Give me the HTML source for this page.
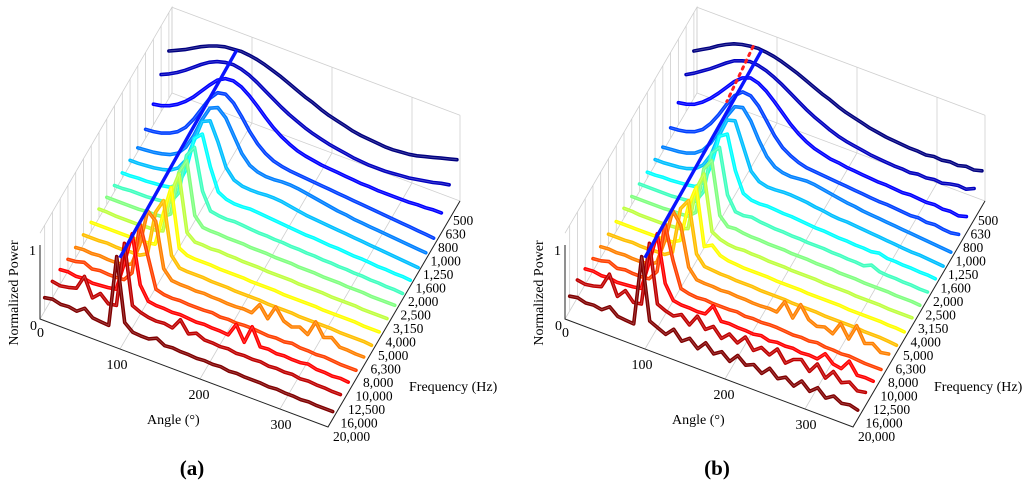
<!DOCTYPE html>
<html><head><meta charset="utf-8"><style>
html,body{margin:0;padding:0;background:#fff;}
svg{display:block;font-family:"Liberation Serif",serif;}
</style></head>
<body>
<svg id="chart" width="1024" height="496" viewBox="0 0 1024 496" xmlns="http://www.w3.org/2000/svg"></svg>
<script>
const frequencies=['500','630','800','1,000','1,250','1,600','2,000','2,500','3,150','4,000','5,000','6,300','8,000','10,000','12,500','16,000','20,000'];
const angleTicks=[0,100,200,300];
const angles=[0,10,20,30,40,50,60,70,80,90,100,110,120,130,140,150,160,170,180,190,200,210,220,230,240,250,260,270,280,290,300,310,320,330,340,350,360];
const blueLineIdx=[0,16];
const blueLineAngles=[85,94];
const blueLineZ=[1.0,1.1];
const redDotIdx=[0,4];
const redDotAngles=[74,80];
const redDotZ=[1.0,1.0];

const panelAValues=[
[.64,.69,.74,.80,.86,.91,.95,.98,.99,1.0,.99,.97,.94,.90,.86,.81,.76,.71,.67,.62,.58,.55,.52,.49,.47,.46,.45,.44,.44,.45,.46,.48,.51,.54,.57,.60,.63],
[.50,.55,.61,.68,.76,.84,.91,.96,.99,1.0,.98,.94,.88,.81,.74,.67,.61,.56,.51,.47,.44,.41,.39,.37,.35,.34,.33,.33,.33,.34,.35,.36,.38,.40,.42,.45,.47],
[.28,.30,.34,.40,.48,.58,.70,.82,.93,.99,1.0,.96,.88,.78,.67,.57,.49,.43,.38,.35,.33,.31,.30,.29,.28,.27,.26,.26,.25,.25,.25,.25,.25,.26,.26,.27,.27],
[.12,.13,.15,.19,.25,.35,.50,.68,.86,.98,1.0,.92,.78,.62,.49,.40,.34,.31,.29,.28,.27,.26,.25,.24,.23,.22,.21,.20,.19,.18,.17,.16,.15,.14,.13,.12,.11],
[.05,.06,.07,.09,.12,.18,.30,.50,.75,.95,1.0,.90,.70,.50,.38,.33,.31,.31,.32,.32,.31,.29,.27,.25,.23,.21,.20,.18,.17,.16,.15,.14,.13,.12,.11,.10,.09],
[.06,.06,.07,.08,.10,.13,.20,.35,.65,.95,1.0,.75,.45,.32,.28,.27,.27,.28,.28,.27,.25,.23,.21,.20,.19,.18,.17,.16,.15,.14,.13,.12,.11,.10,.09,.08,.07],
[.07,.07,.08,.08,.09,.10,.12,.20,.45,.90,1.0,.60,.30,.24,.22,.22,.23,.22,.21,.20,.19,.18,.17,.16,.16,.15,.14,.14,.13,.12,.12,.11,.10,.10,.09,.09,.08],
[.08,.08,.09,.09,.09,.10,.11,.14,.30,.85,1.0,.45,.22,.20,.19,.20,.19,.18,.17,.17,.16,.16,.15,.15,.14,.14,.13,.13,.12,.12,.11,.11,.10,.10,.09,.09,.08],
[.10,.10,.10,.10,.10,.11,.11,.12,.20,.80,1.0,.30,.18,.17,.17,.16,.16,.16,.15,.15,.15,.14,.14,.14,.13,.13,.13,.12,.12,.12,.11,.11,.11,.10,.10,.10,.10],
[.12,.12,.11,.11,.11,.11,.12,.12,.15,.70,1.0,.25,.16,.16,.15,.16,.15,.15,.14,.14,.14,.13,.13,.13,.13,.12,.12,.12,.12,.11,.11,.11,.11,.10,.10,.10,.10],
[.12,.12,.12,.12,.12,.12,.12,.13,.15,.60,1.0,.22,.16,.15,.15,.15,.14,.14,.14,.14,.13,.13,.13,.13,.12,.12,.12,.12,.12,.11,.11,.11,.11,.11,.10,.10,.10],
[.13,.13,.13,.14,.13,.13,.14,.14,.20,.80,1.0,.30,.17,.16,.16,.16,.15,.15,.15,.14,.14,.14,.14,.13,.13,.13,.13,.12,.12,.12,.12,.12,.11,.11,.11,.11,.10],
[.14,.15,.14,.15,.14,.14,.15,.20,.50,1.0,.90,.30,.18,.17,.17,.16,.17,.16,.16,.15,.15,.16,.15,.30,.15,.35,.20,.16,.20,.14,.35,.18,.22,.13,.13,.12,.12],
[.16,.17,.20,.15,.17,.16,.16,.17,.30,1.0,.60,.20,.17,.16,.17,.16,.16,.16,.17,.15,.16,.15,.16,.16,.15,.14,.15,.14,.16,.14,.14,.13,.14,.13,.12,.12,.12],
[.20,.21,.19,.20,.18,.19,.20,.22,.60,1.05,.40,.22,.20,.20,.19,.20,.19,.18,.19,.18,.18,.17,.35,.15,.40,.17,.18,.16,.17,.16,.16,.18,.15,.15,.14,.15,.14],
[.22,.20,.22,.25,.45,.20,.30,.20,.22,1.10,.30,.25,.22,.21,.22,.20,.35,.20,.25,.20,.20,.19,.20,.18,.19,.18,.19,.17,.18,.17,.18,.16,.17,.16,.16,.15,.15],
[.18,.20,.17,.18,.16,.24,.15,.14,.13,1.10,.25,.16,.15,.15,.20,.14,.15,.14,.14,.13,.14,.13,.14,.12,.13,.12,.12,.12,.11,.12,.11,.11,.10,.11,.10,.10,.10]
];
const panelBValues=[
[.64,.70,.76,.83,.89,.94,.97,.99,1.0,.99,.97,.94,.90,.86,.81,.76,.71,.67,.62,.58,.55,.52,.49,.47,.45,.44,.43,.42,.42,.41,.43,.42,.44,.43,.46,.45,.48],
[.50,.56,.63,.70,.78,.86,.93,.97,1.0,.99,.96,.91,.85,.78,.71,.64,.58,.53,.48,.44,.41,.39,.37,.35,.34,.33,.32,.32,.31,.33,.32,.34,.33,.36,.38,.37,.42],
[.30,.32,.36,.43,.52,.63,.75,.87,.96,1.0,.97,.90,.80,.69,.58,.49,.42,.37,.34,.31,.30,.28,.27,.26,.25,.24,.24,.23,.22,.23,.22,.21,.22,.20,.21,.19,.22],
[.14,.15,.17,.21,.28,.40,.56,.74,.90,.99,.98,.88,.72,.56,.44,.37,.32,.29,.28,.27,.26,.25,.24,.23,.22,.21,.20,.20,.19,.18,.17,.18,.16,.17,.15,.14,.16],
[.06,.07,.08,.10,.14,.22,.36,.56,.80,.97,1.0,.86,.64,.46,.36,.32,.31,.32,.33,.32,.30,.28,.26,.24,.23,.21,.20,.19,.18,.17,.16,.15,.14,.13,.12,.11,.10],
[.07,.07,.08,.09,.11,.15,.24,.42,.72,.97,1.0,.70,.40,.30,.27,.27,.28,.28,.27,.26,.24,.23,.21,.20,.20,.19,.18,.17,.16,.15,.14,.13,.12,.12,.11,.10,.09],
[.08,.08,.09,.09,.10,.11,.13,.22,.50,.93,1.0,.55,.28,.23,.22,.23,.22,.21,.21,.20,.19,.18,.18,.17,.16,.16,.15,.15,.14,.16,.13,.13,.12,.12,.11,.11,.10],
[.10,.10,.10,.10,.10,.11,.12,.15,.32,.88,1.0,.40,.21,.20,.22,.20,.19,.18,.18,.17,.17,.16,.16,.16,.15,.15,.14,.14,.13,.18,.13,.12,.12,.11,.11,.10,.10],
[.11,.11,.11,.11,.11,.12,.12,.13,.22,.85,1.0,.30,.19,.20,.18,.17,.17,.16,.16,.16,.15,.15,.15,.14,.14,.14,.13,.13,.13,.12,.12,.12,.12,.11,.11,.11,.10],
[.13,.13,.12,.12,.12,.12,.13,.14,.18,.75,1.0,.26,.20,.17,.16,.17,.16,.16,.15,.15,.15,.14,.14,.14,.14,.13,.13,.13,.13,.12,.12,.12,.12,.11,.11,.11,.11],
[.13,.13,.13,.13,.13,.13,.13,.14,.20,.70,1.0,.24,.30,.20,.17,.16,.15,.15,.15,.15,.14,.14,.14,.14,.13,.13,.13,.13,.13,.12,.12,.12,.12,.12,.11,.11,.10],
[.14,.14,.14,.15,.14,.14,.15,.15,.22,.85,1.0,.32,.19,.18,.17,.17,.16,.16,.16,.15,.15,.15,.15,.14,.14,.14,.14,.13,.13,.13,.13,.13,.12,.12,.12,.11,.10],
[.15,.16,.15,.16,.15,.15,.16,.22,.55,1.0,.85,.32,.19,.18,.18,.17,.18,.17,.17,.16,.16,.17,.16,.34,.16,.38,.22,.17,.20,.15,.33,.16,.38,.18,.22,.14,.16],
[.17,.18,.21,.16,.18,.17,.17,.18,.32,1.0,.55,.21,.18,.17,.18,.17,.17,.17,.18,.16,.17,.16,.17,.17,.16,.15,.16,.15,.17,.15,.15,.14,.15,.14,.13,.13,.13],
[.21,.22,.20,.21,.19,.20,.21,.23,.62,1.05,.42,.23,.21,.21,.20,.21,.36,.19,.20,.19,.19,.18,.20,.17,.19,.18,.19,.17,.18,.17,.28,.18,.16,.30,.15,.16,.15],
[.24,.22,.24,.27,.48,.22,.34,.22,.24,1.10,.32,.27,.24,.30,.20,.36,.22,.30,.18,.28,.20,.32,.18,.26,.20,.32,.17,.26,.30,.18,.32,.17,.30,.19,.24,.16,.18],
[.20,.22,.19,.20,.18,.26,.17,.16,.15,1.10,.27,.22,.17,.28,.16,.24,.14,.26,.15,.22,.13,.25,.16,.21,.13,.24,.14,.20,.12,.23,.13,.22,.12,.19,.13,.15,.12]
];

const svg=document.getElementById('chart');
const NS='http://www.w3.org/2000/svg';
function mk(tag,attrs,parent){const e=document.createElementNS(NS,tag);for(const k in attrs)e.setAttribute(k,attrs[k]);(parent||svg).appendChild(e);return e;}
function sOf(i){return (i+0.4)/17;}
function P(ox,a,s,z){return [ox+40+a/360*288+(1-s)*132, 319+a/360*108-(1-s)*226-74*z];}
function jet(t){const c=v=>Math.round(255*Math.max(0,Math.min(1,v)));const x=4*t;return 'rgb('+c(1.5-Math.abs(x-3))+','+c(1.5-Math.abs(x-2))+','+c(1.5-Math.abs(x-1))+')';}
function pts(arr){return arr.map(p=>p[0].toFixed(1)+','+p[1].toFixed(1)).join(' ');}

function drawPanel(ox,values,label,withRed){
  const g=mk('g',{});
  
  
  const grid='#cfcfcf', zmax=1.16;
  for(let i=0;i<frequencies.length;i++){
    const p0=P(ox,0,sOf(i),0),p1=P(ox,0,sOf(i),zmax);
    const l=mk('line',{x1:p0[0],y1:p0[1],x2:p1[0],y2:p1[1],stroke:grid,'stroke-width':0.8},g);
    
    
  }
  const lw=[P(ox,0,1,zmax),P(ox,0,0,zmax),P(ox,0,0,0)];
  const lwl=mk('polyline',{points:pts(lw),fill:'none',stroke:grid,'stroke-width':0.8},g);
  
  
  const angGrid=angleTicks.concat([360]);
  for(const a of angGrid){
    const f0=P(ox,a,1,0),f1=P(ox,a,0,0),t1=P(ox,a,0,zmax);
    const l=mk('polyline',{points:pts([f0,f1,t1]),fill:'none',stroke:grid,'stroke-width':0.8},g);
    
    
  }
  const bw=[P(ox,0,0,zmax),P(ox,360,0,zmax)];
  const bwl=mk('polyline',{points:pts(bw),fill:'none',stroke:grid,'stroke-width':0.8},g);
  
  
  const bf=[P(ox,0,0,0),P(ox,360,0,0)];
  const bfl=mk('polyline',{points:pts(bf),fill:'none',stroke:grid,'stroke-width':0.8},g);
  
  
  const za=[P(ox,0,1,1),P(ox,0,1,0),P(ox,360,1,0),P(ox,360,0,0)];
  const ax=mk('polyline',{points:pts(za),fill:'none',stroke:'#222','stroke-width':1},g);
  
  
  for(let i=0;i<values.length;i++){
    const arr=values[i].map((v,k)=>P(ox,angles[k],sOf(i),v));
    const col=jet(i/(values.length-1));
    const pl=mk('polyline',{points:pts(arr),fill:'none',stroke:col,'stroke-width':3.6,'stroke-linejoin':'round','stroke-linecap':'round'},g);
    
    
    const hl=mk('polyline',{points:pts(arr),fill:'none',stroke:'#fff','stroke-opacity':0.25,'stroke-width':0.9},g);
    
    
  }
  const b0=P(ox,blueLineAngles[0],sOf(blueLineIdx[0]),blueLineZ[0]);
  const b1=P(ox,blueLineAngles[1],sOf(blueLineIdx[1]),blueLineZ[1]);
  const bl=mk('line',{x1:b0[0],y1:b0[1],x2:b1[0],y2:b1[1],stroke:'#0a14ff','stroke-width':3.4},g);
  
  
  if(withRed){
    const r0=P(ox,redDotAngles[0],sOf(redDotIdx[0]),redDotZ[0]);
    const r1=P(ox,redDotAngles[1],sOf(redDotIdx[1]),redDotZ[1]);
    const rl=mk('line',{x1:r0[0],y1:r0[1],x2:r1[0],y2:r1[1],stroke:'#ff2020','stroke-width':3,'stroke-dasharray':'2.5 5','stroke-linecap':'round'},g);
    
    
  }
  const t0=mk('text',{x:ox+30,y:330,'font-size':14},g);t0.textContent='0';
  
  const t1=mk('text',{x:ox+29,y:255,'font-size':14},g);t1.textContent='1';
  
  const tickPos=[[ox+37,337],[ox+117,369],[ox+199,399],[ox+281,429]];
  angleTicks.forEach((a,k)=>{
    const t=mk('text',{x:tickPos[k][0],y:tickPos[k][1],'font-size':14,'text-anchor':a===0?'start':'middle'},g);
    t.textContent=String(a);
    
    
  });
  frequencies.forEach((f,i)=>{
    const t=mk('text',{x:ox+453-7.5*i,y:225+13.5*i,'font-size':13.5},g);
    t.textContent=f;
    
    
  });
  const yl=mk('text',{x:0,y:0,'font-size':14,'text-anchor':'middle',transform:'translate('+(ox+18)+',293) rotate(-90)'},g);
  yl.textContent='Normalized Power';
  
  
  const xl=mk('text',{x:ox+147,y:424,'font-size':14},g);
  xl.textContent='Angle (°)';
  
  
  const fl=mk('text',{x:ox+409,y:391,'font-size':14},g);
  fl.textContent='Frequency (Hz)';
  
  
  const pl=mk('text',{x:ox+192,y:475,'font-size':21,'text-anchor':'middle','font-weight':'bold'},g);
  pl.textContent='(';
  const b=mk('tspan',{},pl);b.textContent=label;
  pl.appendChild(document.createTextNode(')'));
  
  
}
drawPanel(0,panelAValues,'a',false);
drawPanel(525,panelBValues,'b',true);
</script>
</body></html>
